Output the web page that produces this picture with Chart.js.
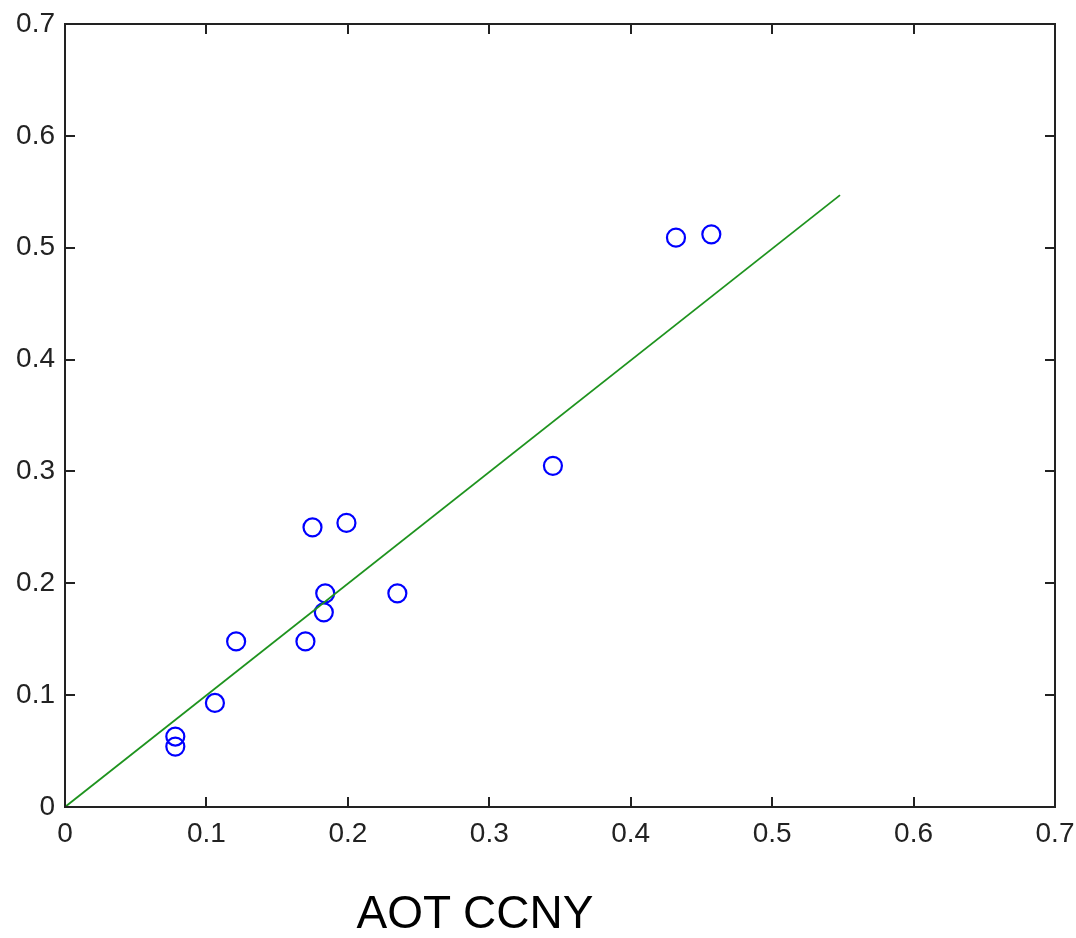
<!DOCTYPE html>
<html>
<head>
<meta charset="utf-8">
<script src="https://cdn.jsdelivr.net/npm/chart.js@4"></script>
<style>
  html, body { margin: 0; padding: 0; background: #fff; }
  #wrap { position: relative; width: 1076px; height: 938px; }
  #xtitle {
    position: absolute; left: 475px; top: 889px; transform: translateX(-50%);
    font-family: "Liberation Sans", Arial, sans-serif; font-size: 46px; color: #000;
    white-space: nowrap; line-height: 1;
  }
</style>
</head>
<body>
<div id="wrap">
  <canvas id="c" width="1076" height="938"></canvas>
  <div id="xtitle">AOT CCNY</div>
</div>
<script>
// Scatter points (AOT values)
const pointX = [0.432, 0.457, 0.345, 0.175, 0.199, 0.235, 0.184, 0.183, 0.170, 0.121, 0.106, 0.078, 0.078];
const pointY = [0.509, 0.512, 0.305, 0.250, 0.254, 0.191, 0.191, 0.174, 0.148, 0.148, 0.093, 0.063, 0.054];

// Fit line end points
const fitX = [0, 0.548];
const fitY = [0, 0.547];

// Tick values and labels (same for both axes)
const tickValues = [0, 0.1, 0.2, 0.3, 0.4, 0.5, 0.6, 0.7];
const tickLabels = ['0', '0.1', '0.2', '0.3', '0.4', '0.5', '0.6', '0.7'];

const tickFont = { family: '"Liberation Sans", Arial, sans-serif', size: 28 };

// box around the plot with inward ticks on all four sides
const boxPlugin = {
  id: 'box',
  afterDatasetsDraw(chart) {
    const { ctx, chartArea: a, scales } = chart;
    const len = 10;
    ctx.save();
    ctx.strokeStyle = '#222';
    ctx.lineWidth = 2;
    ctx.strokeRect(a.left, a.top, a.right - a.left, a.bottom - a.top);
    ctx.beginPath();
    tickValues.forEach(v => {
      const px = Math.round(scales.x.getPixelForValue(v));
      const py = Math.round(scales.y.getPixelForValue(v));
      ctx.moveTo(px, a.bottom); ctx.lineTo(px, a.bottom - len);
      ctx.moveTo(px, a.top); ctx.lineTo(px, a.top + len);
      ctx.moveTo(a.left, py); ctx.lineTo(a.left + len, py);
      ctx.moveTo(a.right, py); ctx.lineTo(a.right - len, py);
    });
    ctx.stroke();
    ctx.restore();
  }
};

function axis(extra) {
  return Object.assign({
    type: 'linear',
    min: 0,
    max: 0.7,
    grid: { display: false, drawTicks: false },
    border: { display: false },
    afterBuildTicks: s => { s.ticks = tickValues.map(v => ({ value: v })); },
    ticks: {
      font: tickFont,
      color: '#222',
      padding: 10,
      maxRotation: 0,
      autoSkip: false,
      callback: (v, i) => tickLabels[i]
    }
  }, extra);
}

new Chart(document.getElementById('c'), {
  type: 'scatter',
  data: {
    datasets: [
      {
        type: 'line',
        data: fitX.map((x, i) => ({ x, y: fitY[i] })),
        borderColor: '#1e931e',
        borderWidth: 1.8,
        pointRadius: 0,
        fill: false
      },
      {
        data: pointX.map((x, i) => ({ x, y: pointY[i] })),
        pointStyle: 'circle',
        pointRadius: 9,
        pointBorderWidth: 2.2,
        pointBorderColor: '#0000ff',
        pointBackgroundColor: 'rgba(0,0,0,0)'
      }
    ]
  },
  options: {
    responsive: false,
    animation: false,
    layout: { padding: { left: 0, top: 24, right: 21, bottom: 0 } },
    plugins: { legend: { display: false }, tooltip: { enabled: false } },
    scales: {
      x: axis({ afterFit: s => { s.height = 131; s.paddingLeft = 0; s.paddingRight = 0; } }),
      y: axis({ afterFit: s => { s.width = 65; s.paddingTop = 0; s.paddingBottom = 0; } })
    }
  },
  plugins: [boxPlugin]
});
</script>
</body>
</html>
